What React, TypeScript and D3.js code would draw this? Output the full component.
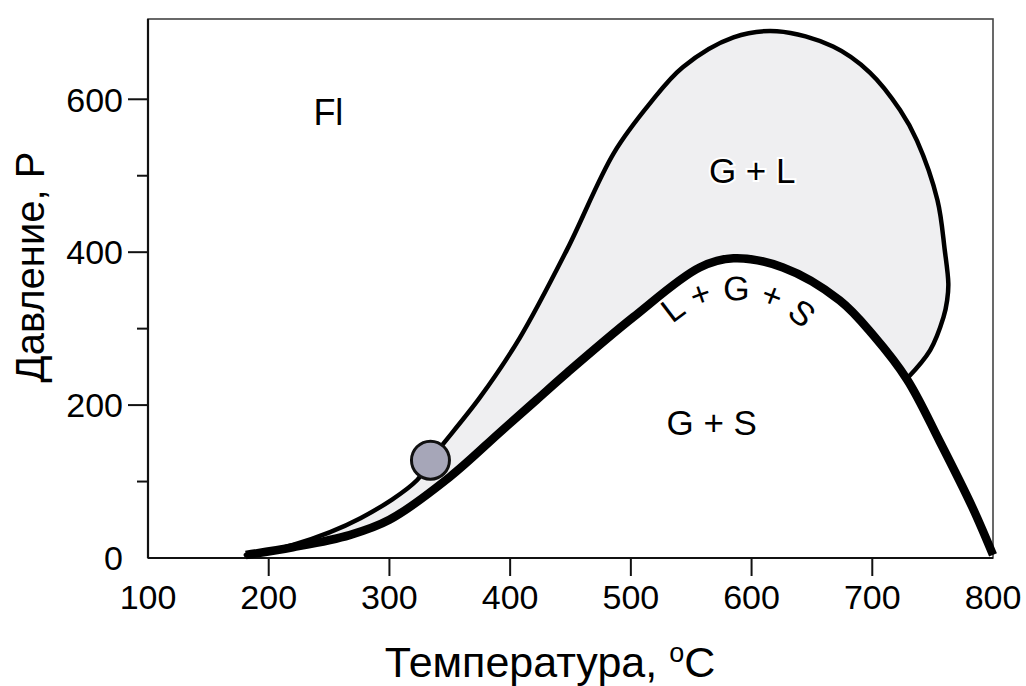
import React from "react";
import * as d3 from "d3";

// ---- data (temperature °C, pressure P) ----
const outerT = [181, 220, 276, 323, 334, 375, 408, 447, 486, 516, 543, 585, 621, 667.5, 698, 723, 737, 754, 760, 763, 762, 759, 748, 729];
const outerP = [4, 17, 52, 102, 128, 210, 288, 403, 530, 595, 642, 681, 689, 669, 635, 586, 546, 468, 403, 359, 337, 315, 272, 235];

const boldT = [181, 220, 267, 300, 350, 392, 422, 447, 502, 557, 585, 626, 673, 701, 729, 756, 783, 800];
const boldP = [4, 14, 30, 50, 106, 165, 207, 242, 315, 380, 392, 380, 337, 291, 233, 152, 66, 4];

const pointT = [334];
const pointP = [128];

const xTickValues = [100, 200, 300, 400, 500, 600, 700, 800];
const xTickMarks = [200, 300, 400, 500, 600, 700];
const yMajorTicks = [0, 200, 400, 600];
const yMinorTicks = [100, 300, 500];

const regionLabels = [
  { text: "Fl", t: 237, p: 566, anchor: "start", size: 36 },
  { text: "G + L", t: 600.5, p: 490, anchor: "middle", size: 35 },
  { text: "G + S", t: 567, p: 161, anchor: "middle", size: 35 },
];
const arcLabel = { text: "L + G + S", t: 586, p: 217 };

const FONT = "'Liberation Sans', Arial, Helvetica, sans-serif";

export default function App() {
  const W = 1026, H = 686;
  const x = d3.scaleLinear().domain([100, 800]).range([148, 993]);
  const y = d3.scaleLinear().domain([0, 705]).range([558, 19]);

  const line = d3
    .line<[number, number]>()
    .x((d) => x(d[0]))
    .y((d) => y(d[1]))
    .curve(d3.curveCatmullRom.alpha(0.5));

  const outer: [number, number][] = outerT.map((t, i) => [t, outerP[i]]);
  const bold: [number, number][] = boldT.map((t, i) => [t, boldP[i]]);
  const boldSub = bold.filter((d) => d[0] <= 729).reverse();

  const outerPath = line(outer) || "";
  const boldPath = line(bold) || "";
  const backPath = (line(boldSub) || "").replace(/^M/, "L");
  const fillPath = outerPath + backPath + "Z";

  // arc for curved label
  const cx = x(arcLabel.t), cy = y(arcLabel.p), R = 92;
  const a0 = (-46 * Math.PI) / 180, a1 = (51 * Math.PI) / 180;
  const arcD = `M ${cx + R * Math.sin(a0)} ${cy - R * Math.cos(a0)} A ${R} ${R} 0 0 1 ${cx + R * Math.sin(a1)} ${cy - R * Math.cos(a1)}`;

  return (
    <svg width={W} height={H} style={{ position: "absolute", left: 0, top: 0, background: "#fff" }} fontFamily={FONT}>
      <defs>
        <path id="lgsArc" d={arcD} />
      </defs>
      {/* frame */}
      <rect x={148} y={19} width={993 - 148} height={558 - 19} fill="none" stroke="#444" strokeWidth={1.6} />
      <line x1={148} x2={148} y1={19} y2={558} stroke="#111" strokeWidth={2.2} />
      <line x1={148} x2={993} y1={558} y2={558} stroke="#111" strokeWidth={2.2} />

      {/* shaded region */}
      <path d={fillPath} fill="#efeff1" stroke="none" />
      <path d={outerPath} fill="none" stroke="#000" strokeWidth={4.5} strokeLinecap="round" />
      <path d={boldPath} fill="none" stroke="#000" strokeWidth={8.5} strokeLinecap="butt" />

      {/* point */}
      {pointT.map((t, i) => (
        <circle key={i} cx={x(t)} cy={y(pointP[i])} r={19} fill="#a6a6b8" stroke="#111" strokeWidth={3} />
      ))}

      {/* y ticks */}
      {yMajorTicks.map((v) => (
        <g key={"ym" + v}>
          {v !== 0 && <line x1={128} x2={148} y1={y(v)} y2={y(v)} stroke="#111" strokeWidth={2} />}
          <text x={123} y={y(v)} dy="0.36em" textAnchor="end" fontSize={34} fill="#000">
            {v}
          </text>
        </g>
      ))}
      {yMinorTicks.map((v) => (
        <line key={"yn" + v} x1={137} x2={148} y1={y(v)} y2={y(v)} stroke="#111" strokeWidth={2} />
      ))}

      {/* x ticks */}
      {xTickMarks.map((v) => (
        <line key={"xt" + v} x1={x(v)} x2={x(v)} y1={558} y2={576} stroke="#111" strokeWidth={2} />
      ))}
      {xTickValues.map((v) => (
        <text key={"xl" + v} x={x(v)} y={609} textAnchor="middle" fontSize={34} fill="#000">
          {v}
        </text>
      ))}

      {/* axis titles */}
      <text x={550} y={677} textAnchor="middle" fontSize={43} fill="#000">
        Температура, <tspan dy={-15} fontSize={27}>o</tspan><tspan dy={15}>C</tspan>
      </text>
      <text transform={`translate(44, 267) rotate(-90)`} textAnchor="middle" fontSize={40} fill="#000">
        Давление, P
      </text>

      {/* region labels */}
      {regionLabels.map((l) => (
        <text
          key={l.text}
          x={x(l.t)}
          y={y(l.p)}
          textAnchor={l.anchor as any}
          fontSize={l.size}
          fill="#000"
          stroke="#fff"
          strokeWidth={4}
          paintOrder="stroke"
        >
          {l.text}
        </text>
      ))}
      <text fontSize={34} fill="#000">
        <textPath href="#lgsArc" startOffset="50%" textAnchor="middle">
          {arcLabel.text}
        </textPath>
      </text>
    </svg>
  );
}
